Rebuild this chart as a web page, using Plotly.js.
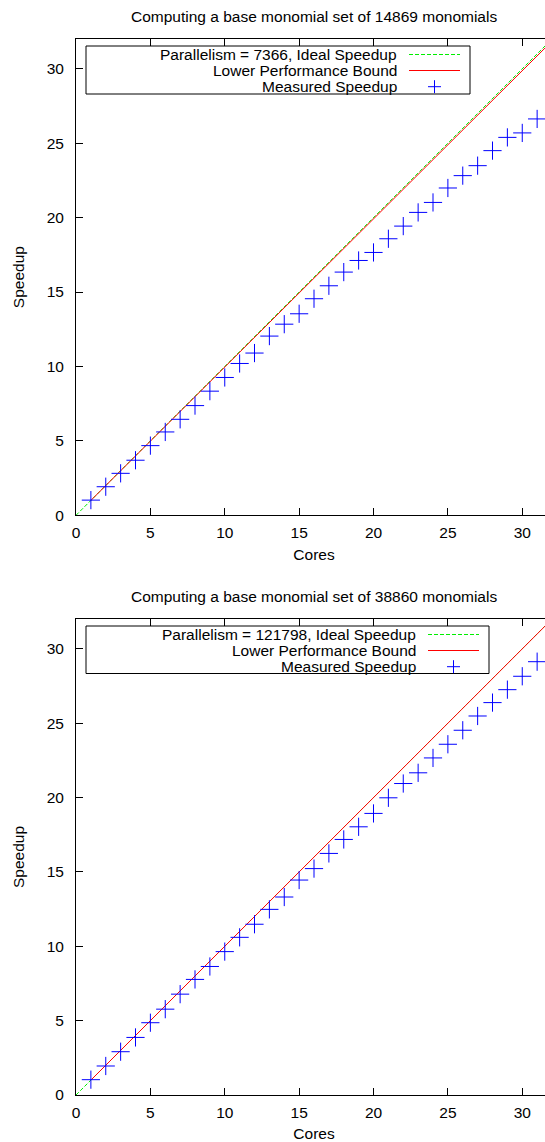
<!DOCTYPE html>
<html>
<head>
<meta charset="utf-8">
<script src="https://cdn.plot.ly/plotly-3.0.1.min.js"></script>
<style>
html, body { margin: 0; padding: 0; overflow: hidden; background: #fff; }
#chart { width: 553px; height: 1142px; }
</style>
</head>
<body>
<div id="chart"></div>
<script>
// ---- data ----
var cores = [1,2,3,4,5,6,7,8,9,10,11,12,13,14,15,16,17,18,19,20,21,22,23,24,25,26,27,28,29,30,31];
var measured1 = [1.02,1.92,2.82,3.70,4.68,5.60,6.45,7.37,8.34,9.26,10.20,10.90,12.04,12.84,13.54,14.55,15.42,16.34,17.12,17.66,18.58,19.43,20.35,21.02,21.99,22.82,23.49,24.50,25.39,25.69,26.63];
var measured2 = [1.03,1.95,2.91,3.87,4.86,5.77,6.78,7.77,8.64,9.64,10.60,11.48,12.48,13.31,14.45,15.22,16.24,17.18,18.03,18.93,19.98,20.94,21.66,22.66,23.58,24.52,25.48,26.38,27.25,28.15,29.13];
var idealX = [0, 32];
var idealY = [0, 32];
var lowerX = [1, 32];
var lowerY1 = [1.0, 31.86];
var lowerY2 = [1.0, 31.99];
var titles = ["Computing a base monomial set of 14869 monomials", "Computing a base monomial set of 38860 monomials"];
var legendNames1 = ["Parallelism = 7366, Ideal Speedup", "Lower Performance Bound", "Measured Speedup"];
var legendNames2 = ["Parallelism = 121798, Ideal Speedup", "Lower Performance Bound", "Measured Speedup"];
var tickVals = [0, 5, 10, 15, 20, 25, 30];

// ---- layout helpers (pixel -> paper) ----
var W = 553, H = 1142, ML = 76, MR = 1, MT = 39, MB = 47;
var PW = W - ML - MR, PH = H - MT - MB;
function px(x) { return (x - ML) / PW; }
function py(y) { return (H - MB - y) / PH; }

var FONT = "Liberation Sans, Arial, Helvetica, sans-serif";
var FS = 15.5;
var GREEN = "#00ee00", RED = "#ff0000", BLUE = "#0000ff";

function traces(xa, ya, measured, lowerY) {
  return [
    {x: idealX, y: idealY, xaxis: xa, yaxis: ya, mode: "lines", type: "scatter",
     line: {color: GREEN, width: 1, dash: "4px,2px"}, hoverinfo: "skip"},
    {x: lowerX, y: lowerY, xaxis: xa, yaxis: ya, mode: "lines", type: "scatter",
     line: {color: RED, width: 1}, hoverinfo: "skip"},
    {x: cores, y: measured, xaxis: xa, yaxis: ya, mode: "markers", type: "scatter",
     marker: {symbol: "cross-thin", size: 13, color: BLUE, line: {color: BLUE, width: 1}}}
  ];
}

var data = traces("x", "y", measured1, lowerY1).concat(traces("x2", "y2", measured2, lowerY2));

function axis(extra) {
  var a = {
    range: [0, 32], tickvals: tickVals, ticktext: tickVals.map(String),
    ticks: "inside", ticklen: 7, tickwidth: 1, tickcolor: "#000",
    showline: true, linecolor: "#000", linewidth: 1, mirror: "ticks",
    showgrid: false, zeroline: false, fixedrange: true,
    tickfont: {family: FONT, size: FS, color: "#000"}
  };
  for (var k in extra) a[k] = extra[k];
  return a;
}

var topDom = [py(515.3), 1];
var botDom = [0, py(619)];

var layout = {
  width: W, height: H,
  margin: {l: ML, r: MR, t: MT, b: MB},
  paper_bgcolor: "#fff", plot_bgcolor: "#fff",
  showlegend: false,
  font: {family: FONT, size: FS, color: "#000"},
  xaxis: axis({domain: [0, 1], anchor: "y", ticklabelstandoff: 3,
    title: {text: "Cores", font: {family: FONT, size: FS}, standoff: 9}}),
  yaxis: axis({domain: topDom, anchor: "x", ticklabelstandoff: 8,
    title: {text: "Speedup", font: {family: FONT, size: FS}, standoff: 18}}),
  xaxis2: axis({domain: [0, 1], anchor: "y2", ticklabelstandoff: 3,
    title: {text: "Cores", font: {family: FONT, size: FS}, standoff: 9}}),
  yaxis2: axis({domain: botDom, anchor: "x2", ticklabelstandoff: 8,
    title: {text: "Speedup", font: {family: FONT, size: FS}, standoff: 18}}),
  shapes: [], annotations: []
};

function addLegend(names, boxL, boxR, boxT, boxB, textR, sampL, sampR, rows) {
  layout.shapes.push({type: "rect", xref: "paper", yref: "paper",
    x0: px(boxL), x1: px(boxR), y0: py(boxB), y1: py(boxT),
    line: {color: "#000", width: 1}, fillcolor: "rgba(0,0,0,0)"});
  for (var i = 0; i < 3; i++) {
    layout.annotations.push({xref: "paper", yref: "paper", x: px(textR), y: py(rows[i]),
      xanchor: "right", yanchor: "middle", showarrow: false, text: names[i],
      font: {family: FONT, size: FS, color: "#000"}});
  }
  layout.shapes.push({type: "line", xref: "paper", yref: "paper",
    x0: px(sampL), x1: px(sampR), y0: py(rows[0]), y1: py(rows[0]),
    line: {color: GREEN, width: 1, dash: "4px,2px"}});
  layout.shapes.push({type: "line", xref: "paper", yref: "paper",
    x0: px(sampL), x1: px(sampR), y0: py(rows[1]), y1: py(rows[1]),
    line: {color: RED, width: 1}});
  var cx = (sampL + sampR) / 2, cy = rows[2];
  layout.shapes.push({type: "line", xref: "paper", yref: "paper",
    x0: px(cx - 6.5), x1: px(cx + 6.5), y0: py(cy), y1: py(cy), line: {color: BLUE, width: 1}});
  layout.shapes.push({type: "line", xref: "paper", yref: "paper",
    x0: px(cx), x1: px(cx), y0: py(cy - 6.5), y1: py(cy + 6.5), line: {color: BLUE, width: 1}});
}

addLegend(legendNames1, 86, 470, 46, 94, 399, 409, 460, [54.5, 70.5, 86.7]);
addLegend(legendNames2, 86, 489, 626, 673.5, 418, 428, 479, [634.5, 650.5, 666.7]);

layout.annotations.push({xref: "paper", yref: "paper", x: px(314), y: py(16), xanchor: "center", yanchor: "middle",
  showarrow: false, text: titles[0], font: {family: FONT, size: FS, color: "#000"}});
layout.annotations.push({xref: "paper", yref: "paper", x: px(314), y: py(596), xanchor: "center", yanchor: "middle",
  showarrow: false, text: titles[1], font: {family: FONT, size: FS, color: "#000"}});

Plotly.newPlot("chart", data, layout, {staticPlot: true, displayModeBar: false});
</script>
</body>
</html>
